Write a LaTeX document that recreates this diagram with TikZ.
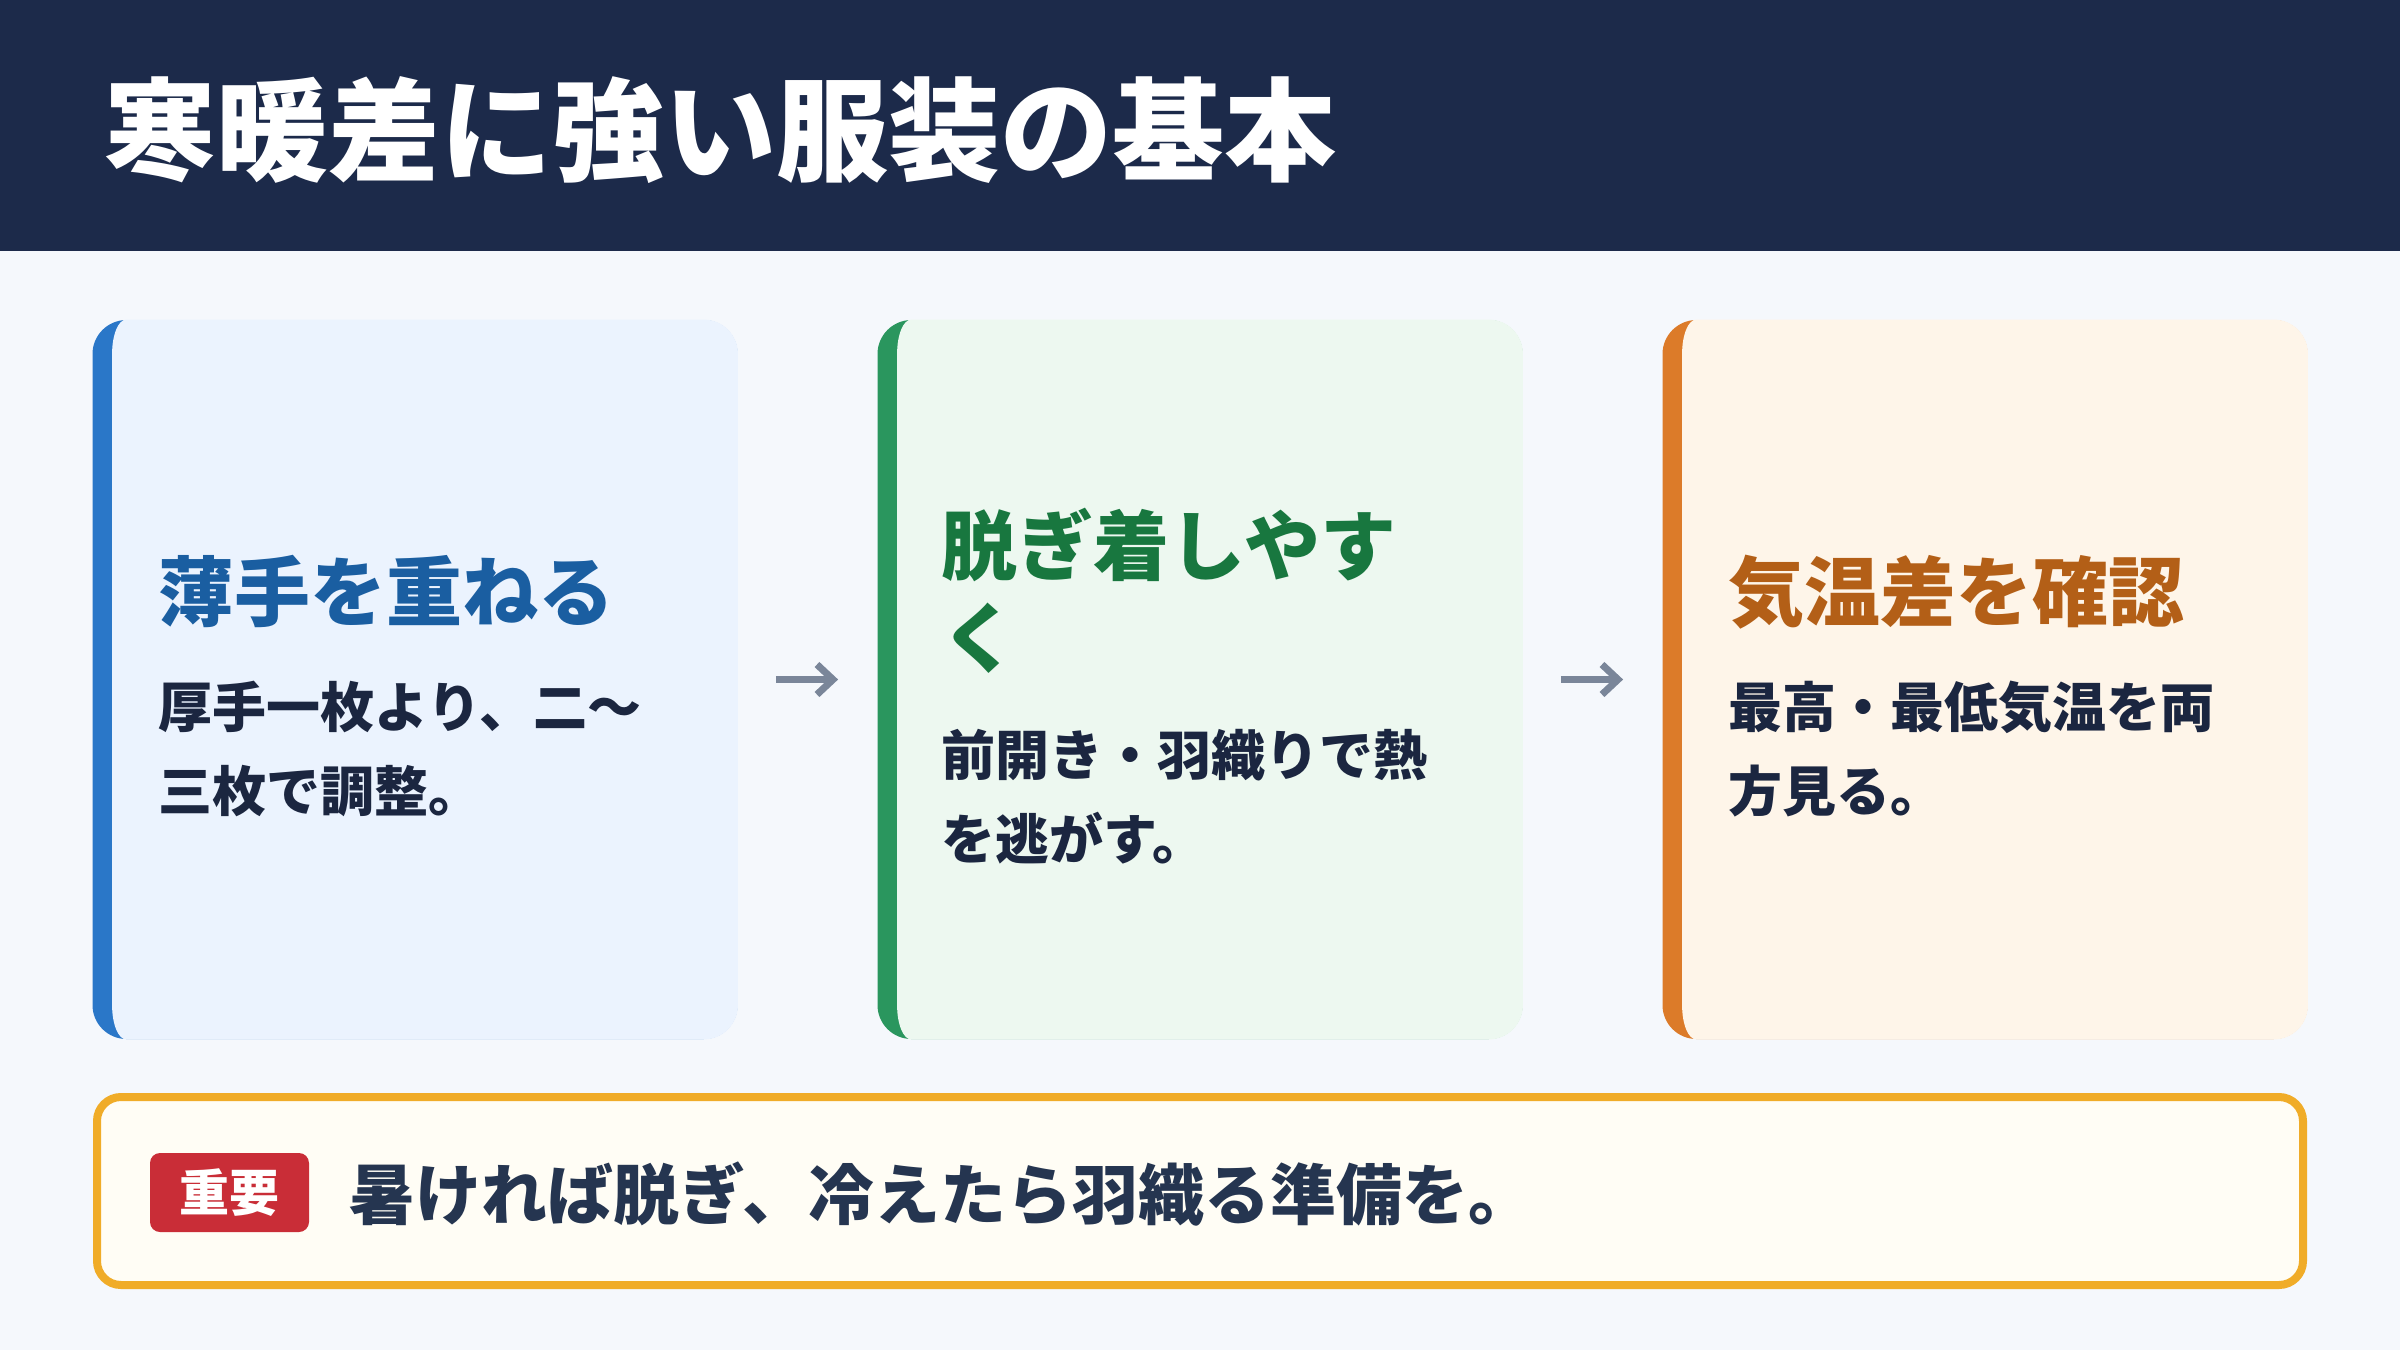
\documentclass[tikz,border=0pt]{standalone}
\usepackage{fontspec}
\setmainfont{Noto Sans CJK JP}
\usepackage{tikz}
\usetikzlibrary{arrows.meta, positioning}

\definecolor{pagebg}{HTML}{F5F8FC}
\definecolor{headbg}{HTML}{1C2A4A}
\definecolor{blueedge}{HTML}{2A77C8}
\definecolor{bluecard}{HTML}{EBF3FE}
\definecolor{bluetitle}{HTML}{1A5EA1}
\definecolor{greenedge}{HTML}{2A965E}
\definecolor{greencard}{HTML}{EDF8F0}
\definecolor{greentitle}{HTML}{18773F}
\definecolor{orangeedge}{HTML}{DC7B29}
\definecolor{orangecard}{HTML}{FEF5E9}
\definecolor{orangetitle}{HTML}{B35F17}
\definecolor{bodytext}{HTML}{1B2640}
\definecolor{noteborder}{HTML}{F0AC28}
\definecolor{notefill}{HTML}{FFFDF5}
\definecolor{badgered}{HTML}{C92D37}
\definecolor{notetext}{HTML}{253550}
\definecolor{arrowgray}{HTML}{7A8699}

\tikzset{cardbox/.style={rectangle, rounded corners=17pt, minimum width=322.5pt, minimum height=359.5pt, inner sep=0pt}}
\tikzset{cardtitle/.style={anchor=base west, inner sep=0pt, align=left, font=\bfseries\fontsize{38}{46}\selectfont}}
\tikzset{cardtext/.style={anchor=base west, inner sep=0pt, align=left, text=bodytext, font=\bfseries\fontsize{27}{42}\selectfont}}
\tikzset{flowarrow/.style={draw=arrowgray, line width=3.5pt, -{Straight Barb[length=8pt,width=15pt]}, shorten <=19pt, shorten >=19.5pt}}

\begin{document}
\begin{tikzpicture}[x=0.5pt,y=-0.5pt]

% page and header band
\fill[pagebg] (0,0) rectangle (2400,1350);
\fill[headbg] (0,0) rectangle (2400,251);
\node[anchor=base west, inner sep=0pt, text=white, font=\bfseries\fontsize{56}{60}\selectfont] (heading) at (104,172) {寒暖差に強い服装の基本};

% cards
\node[cardbox, fill=blueedge] (card1) at (415,679.5) {};
\node[cardbox, fill=greenedge] (card2) at (1200,679.5) {};
\node[cardbox, fill=orangeedge] (card3) at (1985,679.5) {};

\fill[bluecard] ([xshift=10pt,yshift=-17pt]card1.north west) arc[start angle=180, end angle=90, x radius=7pt, y radius=17pt]
 -- ([xshift=-17pt]card1.north east) arc[start angle=90, end angle=0, radius=17pt]
 -- ([yshift=17pt]card1.south east) arc[start angle=0, end angle=-90, radius=17pt]
 -- ([xshift=17pt]card1.south west) arc[start angle=270, end angle=180, x radius=7pt, y radius=17pt] -- cycle;
\fill[greencard] ([xshift=10pt,yshift=-17pt]card2.north west) arc[start angle=180, end angle=90, x radius=7pt, y radius=17pt]
 -- ([xshift=-17pt]card2.north east) arc[start angle=90, end angle=0, radius=17pt]
 -- ([yshift=17pt]card2.south east) arc[start angle=0, end angle=-90, radius=17pt]
 -- ([xshift=17pt]card2.south west) arc[start angle=270, end angle=180, x radius=7pt, y radius=17pt] -- cycle;
\fill[orangecard] ([xshift=10pt,yshift=-17pt]card3.north west) arc[start angle=180, end angle=90, x radius=7pt, y radius=17pt]
 -- ([xshift=-17pt]card3.north east) arc[start angle=90, end angle=0, radius=17pt]
 -- ([yshift=17pt]card3.south east) arc[start angle=0, end angle=-90, radius=17pt]
 -- ([xshift=17pt]card3.south west) arc[start angle=270, end angle=180, x radius=7pt, y radius=17pt] -- cycle;

% card texts (base = last line)
\node[cardtitle, text=bluetitle] (title1) at (158,620) {薄手を重ねる};
\node[cardtext] (text1) at (158,811) {厚手一枚より、二～\\三枚で調整。};
\node[cardtitle, text=greentitle] (title2) at (941,666) {脱ぎ着しやす\\く};
\node[cardtext] (text2) at (941,859) {前開き・羽織りで熱\\を逃がす。};
\node[cardtitle, text=orangetitle] (title3) at (1728,620) {気温差を確認};
\node[cardtext] (text3) at (1728,811) {最高・最低気温を両\\方見る。};

% arrows between cards
\draw[flowarrow] (card1.east) -- (card2.west);
\draw[flowarrow] (card2.east) -- (card3.west);

% note box
\node[rectangle, draw=noteborder, line width=4pt, fill=notefill, rounded corners=12pt, minimum width=1103pt, minimum height=94pt] (note) at (1200,1191) {};
\node[rectangle, fill=badgered, rounded corners=5pt, minimum width=79.5pt, minimum height=39.5pt, text=white, font=\bfseries\fontsize{25}{28}\selectfont] (badge) at (229.5,1192.5) {重要};
\node[anchor=base west, inner sep=0pt, text=notetext, font=\bfseries\fontsize{33}{36}\selectfont] (notemsg) at (349,1219) {暑ければ脱ぎ、冷えたら羽織る準備を。};

\end{tikzpicture}
\end{document}
